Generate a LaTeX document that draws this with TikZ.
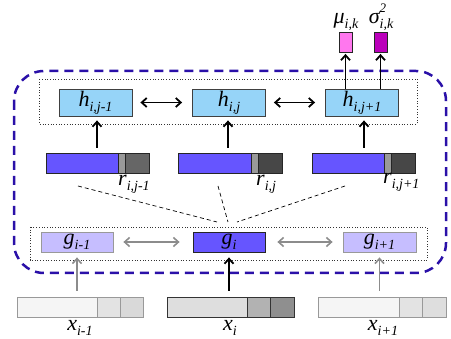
\documentclass[tikz,border=0pt]{standalone}
\usepackage{fontspec}
\setmainfont{Liberation Serif}
\usetikzlibrary{arrows.meta}
\definecolor{hblue}{HTML}{96D4F8}
\definecolor{barblue}{HTML}{6655FF}
\definecolor{glight}{HTML}{C6BEFF}
\definecolor{mupink}{HTML}{FF77EE}
\definecolor{sigpurple}{HTML}{BB00BB}
\definecolor{frameblue}{HTML}{2A10A8}
\newcommand\sbx[1]{\raisebox{-5pt}{\fontsize{14}{14}\selectfont #1}}
\newcommand\spx[1]{\rlap{\raisebox{11pt}{\fontsize{13}{13}\selectfont #1}}}
\begin{document}
\begin{tikzpicture}[x=1pt,y=-1pt,
  lblfont/.style={font=\fontsize{22}{24}\selectfont\itshape},
  lbl/.style={lblfont, inner sep=0pt},
  hbox/.style={lblfont, draw=black!75, fill=hblue, line width=0.8pt, minimum width=73pt, minimum height=27pt, inner sep=0pt},
  gbox/.style={lblfont, draw=black!40, fill=glight, line width=0.8pt, minimum width=72pt, minimum height=20pt, inner sep=0pt},
  gmid/.style={gbox, draw=black!85, fill=barblue},
  seg/.style={draw=#1, anchor=north west, inner sep=0pt, outer sep=0pt, minimum height=20pt, line width=0.8pt},
  outbox/.style={draw=black!85, line width=0.8pt, minimum width=13pt, minimum height=20pt, inner sep=0pt},
  arr/.style={line width=1.8pt, -{Straight Barb[length=5pt,width=9pt]}},
  darr/.style={line width=1.8pt, {Straight Barb[length=5pt,width=9pt]}-{Straight Barb[length=5pt,width=9pt]}},
  garr/.style={draw=black!45, line width=1.6pt, -{Straight Barb[length=5pt,width=9pt]}},
  gdarr/.style={draw=black!45, line width=1.6pt, {Straight Barb[length=5pt,width=9pt]}-{Straight Barb[length=5pt,width=9pt]}},
  dotframe/.style={dotted, line width=0.7pt, draw=black!80},
  link/.style={dashed, dash pattern=on 4pt off 3pt, line width=0.7pt},
]
\useasboundingbox (0,0) rectangle (451,339);

% outer dashed frame
\draw[frameblue, line width=2.5pt, dash pattern=on 9pt off 6pt, rounded corners=30pt] (14,71) rectangle (446,273);
% dotted frames
\draw[dotframe] (39,79) rectangle (417,124);
\draw[dotframe] (30,227) rectangle (427,260);

% h boxes
\node[hbox] (h1) at (95.5,102.5) {h\sbx{i,j-1}};
\node[hbox] (h2) at (229,102.5) {h\sbx{i,j}};
\node[hbox] (h3) at (362,102.5) {h\sbx{i,j+1}};
\draw[darr, shorten <=8pt, shorten >=10pt] (h1.east) -- (h2.west);
\draw[darr, shorten <=8pt, shorten >=10pt] (h2.east) -- (h3.west);

% outputs
\node[outbox, fill=mupink] (mu) at (345.5,42) {};
\node[outbox, fill=sigpurple] (sig) at (380.5,42) {};
\node[lbl, anchor=base] (mul) at (346,24) {μ\sbx{i,k}};
\node[lbl, anchor=base] (sigl) at (381,24) {σ\spx{2}\sbx{i,k}};
\draw[arr, shorten >=1.5pt] (h3.north -| mu.south) -- (mu.south);
\draw[arr, shorten >=1.5pt] (h3.north -| sig.south) -- (sig.south);

% r bars
\node[seg=black!85, fill=barblue, minimum width=72pt] (r1a) at (46,153) {};
\node[seg=black!85, fill=black!40, minimum width=7pt] (r1b) at (r1a.north east) {};
\node[seg=black!85, fill=black!60, minimum width=24pt] (r1c) at (r1b.north east) {};
\node[seg=black!85, fill=barblue, minimum width=73pt] (r2a) at (178,153) {};
\node[seg=black!85, fill=black!40, minimum width=7pt] (r2b) at (r2a.north east) {};
\node[seg=black!85, fill=black!72, minimum width=24pt] (r2c) at (r2b.north east) {};
\node[seg=black!85, fill=barblue, minimum width=72pt] (r3a) at (312,153) {};
\node[seg=black!85, fill=black!40, minimum width=7pt] (r3b) at (r3a.north east) {};
\node[seg=black!85, fill=black!72, minimum width=24pt] (r3c) at (r3b.north east) {};
\node[lbl, anchor=base west] (r1l) at (118,186) {r\sbx{i,j-1}};
\node[lbl, anchor=base west] (r2l) at (256,186) {r\sbx{i,j}};
\node[lbl, anchor=base west] (r3l) at (383,184) {r\sbx{i,j+1}};

\coordinate (t1) at (97,153);
\coordinate (t2) at (228,153);
\coordinate (t3) at (364,153);
\draw[arr, shorten <=5pt, shorten >=4pt] (t1) -- (t1 |- h1.south);
\draw[arr, shorten <=5pt, shorten >=4pt] (t2) -- (t2 |- h2.south);
\draw[arr, shorten <=5pt, shorten >=4pt] (t3) -- (t3 |- h3.south);

% g boxes
\node[gbox] (g1) at (77,242) {g\sbx{i-1}};
\node[gmid] (g2) at (229,242) {g\sbx{i}};
\node[gbox, minimum width=73pt] (g3) at (379.5,242) {g\sbx{i+1}};
\draw[gdarr, shorten <=10pt, shorten >=13pt] (g1.east) -- (g2.west);
\draw[gdarr, shorten <=12pt, shorten >=10pt] (g2.east) -- (g3.west);

% dashed links
\coordinate (d1s) at (78,186); \coordinate (d1e) at (217,222);
\coordinate (d2s) at (218,186); \coordinate (d2e) at (228,222);
\coordinate (d3s) at (345,186); \coordinate (d3e) at (237,222);
\draw[link] (d1s) -- (d1e);
\draw[link] (d2s) -- (d2e);
\draw[link] (d3s) -- (d3e);

% x bars
\node[seg=black!40, fill=black!4, minimum width=80pt] (x1a) at (17,297) {};
\node[seg=black!40, fill=black!11, minimum width=23pt] (x1b) at (x1a.north east) {};
\node[seg=black!40, fill=black!15, minimum width=23pt] (x1c) at (x1b.north east) {};
\node[seg=black!80, fill=black!13, minimum width=80pt] (x2a) at (167,297) {};
\node[seg=black!80, fill=black!30, minimum width=23pt] (x2b) at (x2a.north east) {};
\node[seg=black!80, fill=black!44, minimum width=24pt] (x2c) at (x2b.north east) {};
\node[seg=black!40, fill=black!4, minimum width=81pt] (x3a) at (318,297) {};
\node[seg=black!40, fill=black!11, minimum width=23pt] (x3b) at (x3a.north east) {};
\node[seg=black!40, fill=black!13, minimum width=24pt] (x3c) at (x3b.north east) {};
\node[lbl, anchor=base] (x1l) at (80,331) {x\sbx{i-1}};
\node[lbl, anchor=base] (x2l) at (230,331) {x\sbx{i}};
\node[lbl, anchor=base] (x3l) at (383,331) {x\sbx{i+1}};

\draw[garr, shorten <=6pt, shorten >=5pt] (x1a.north -| g1.south) -- (g1.south);
\draw[arr, shorten <=6pt, shorten >=5pt] (x2a.north -| g2.south) -- (g2.south);
\draw[garr, shorten <=6pt, shorten >=5pt] (x3a.north -| g3.south) -- (g3.south);
\end{tikzpicture}
\end{document}
